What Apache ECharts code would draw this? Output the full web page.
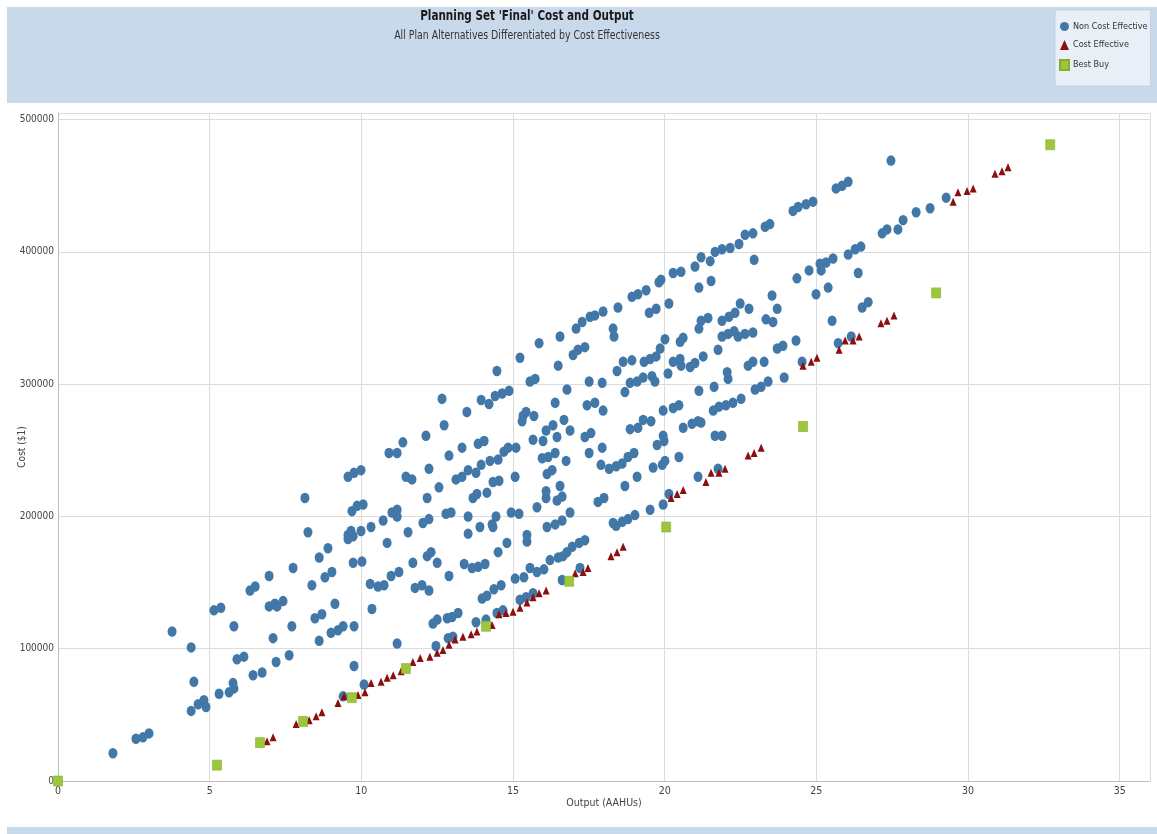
<!DOCTYPE html>
<html>
<head>
<meta charset="utf-8">
<script src="https://cdn.jsdelivr.net/npm/echarts@6/dist/echarts.min.js"></script>
<style>
html,body{margin:0;padding:0;background:#fff;}
#chart{width:1157px;height:834px;}
</style>
</head>
<body>
<div id="chart"></div>
<script>
// ---------- data: [Output (AAHUs), Cost ($1)] ----------
var nonCostEffective = [
[1.81,21000],[2.57,32000],[2.80,33000],[3.00,36000],[3.76,113000],[4.39,101000],[4.48,75000],[4.39,53000],[4.62,58000],[4.81,61000],
[4.88,56000],[5.14,129000],[5.37,131000],[5.31,66000],[5.64,67000],[5.77,74000],[5.80,70000],[5.80,117000],[5.90,92000],[6.13,94000],
[6.33,144000],[6.50,147000],[6.43,80000],[6.73,82000],[6.96,155000],[6.96,132000],[7.15,134000],[7.22,132000],[7.42,136000],[7.09,108000],
[7.19,90000],[7.62,95000],[7.71,117000],[7.75,161000],[8.37,148000],[8.61,106000],[8.47,123000],[8.70,126000],[8.80,154000],[9.03,158000],
[9.13,134000],[9.00,112000],[9.23,114000],[9.40,117000],[9.76,117000],[9.76,87000],[9.73,165000],[10.02,166000],[10.09,73000],[10.29,149000],
[10.35,130000],[9.40,64000],
[8.14,214000],[8.24,188000],[8.61,169000],[8.90,176000],[9.56,230000],[9.76,233000],[9.99,235000],[9.69,204000],[9.86,208000],[10.06,209000],
[9.56,186000],[9.66,189000],[9.73,185000],[9.56,183000],[9.99,189000],[10.32,192000],[10.55,147000],[10.72,197000],[10.75,148000],[10.85,180000],
[10.91,248000],[10.98,155000],[11.01,203000],[11.18,205000],[11.18,200000],[11.18,104000],[11.18,248000],[11.24,158000],[11.37,256000],[11.47,230000],
[11.54,188000],[11.67,228000],[11.70,165000],[11.77,146000],[12.00,148000],[12.03,195000],[12.13,261000],[12.17,214000],[12.23,198000],[12.17,170000],
[12.23,236000],[12.30,173000],[12.23,144000],[12.36,119000],[12.50,165000],[12.50,122000],[12.46,102000],[12.56,222000],[12.66,289000],[12.73,269000],
[12.79,202000],[12.89,155000],[12.89,246000],[12.83,123000],[12.86,108000],[12.96,203000],[12.99,124000],[13.02,109000],[13.19,127000],[13.12,228000],
[13.32,252000],[13.32,230000],[13.39,164000],[13.48,279000],[13.52,235000],[13.52,200000],[13.52,187000],[13.65,161000],[13.68,214000],[13.78,233000],
[13.81,217000],[13.85,162000],[13.85,255000],[13.91,192000],[13.95,239000],[13.95,288000],[13.98,138000],[14.05,257000],[14.08,164000],[14.14,140000],
[14.14,218000],[14.21,285000],[14.24,242000],[14.31,194000],[14.34,192000],[14.34,226000],[14.37,145000],[14.41,291000],[14.44,200000],[14.51,243000],
[14.51,173000],[14.54,227000],[14.61,148000],[14.64,293000],[14.70,249000],[14.80,180000],[14.84,252000],[14.87,295000],[14.94,203000],[15.07,230000],
[15.07,153000],[15.10,252000],[15.20,202000],[13.78,120000],[14.11,122000],[14.47,127000],[14.67,129000],[15.36,154000],[15.56,161000],[15.79,158000],
[15.23,137000],[15.43,139000],[15.66,142000],
[14.47,310000],[15.23,320000],[15.86,331000],[16.49,314000],[15.56,302000],[15.73,304000],[16.55,336000],
[17.08,342000],[17.28,347000],[17.54,351000],[17.70,352000],[17.97,355000],[18.46,358000],[18.92,366000],[19.12,368000],[19.39,371000],[19.81,377000],
[19.88,379000],[20.28,384000],[20.54,385000],[21.00,389000],[21.20,396000],[21.50,393000],[21.66,400000],[21.89,402000],[22.16,403000],[22.45,406000],
[22.65,413000],[22.91,414000],[23.31,419000],[23.47,421000],[22.95,394000],[24.36,380000],[24.76,386000],[16.98,322000],[17.14,326000],[17.37,328000],
[18.30,342000],[18.33,336000],[19.49,354000],[19.72,357000],[20.14,361000],[21.13,373000],[21.53,378000],[23.54,367000],[23.71,357000],[22.49,361000],
[22.78,357000],[21.20,348000],[21.43,350000],[21.89,348000],[22.12,351000],[22.32,354000],[23.34,349000],[23.57,347000],[21.13,342000],[24.33,333000],
[20.01,334000],[20.61,335000],[20.51,332000],[21.89,336000],[22.09,338000],[22.29,340000],[22.42,336000],[22.65,338000],[22.91,339000],[21.76,326000],
[21.27,321000],[23.90,329000],[23.71,327000],[24.53,317000],[17.51,302000],[17.94,301000],[18.43,310000],[18.63,317000],[18.92,318000],[19.32,317000],
[19.52,319000],[19.72,321000],[19.85,327000],[18.69,294000],[18.86,301000],[19.09,302000],[19.29,305000],[19.58,306000],[19.68,302000],[20.11,308000],
[20.28,317000],[20.51,319000],[20.54,314000],[20.84,313000],[21.00,316000],[22.06,309000],[22.09,304000],[22.75,314000],[22.91,317000],[23.28,317000],
[23.94,305000],[21.13,295000],[21.63,298000],[22.98,296000],[23.18,298000],[23.41,302000],[16.78,296000],[16.39,286000],[17.44,284000],[17.70,286000],
[17.97,280000],[15.33,276000],[15.43,279000],[15.69,276000],[15.30,272000],[16.68,273000],[16.32,269000],[16.09,265000],[16.88,265000],[16.45,260000],
[15.99,257000],[15.66,258000],[17.37,260000],[17.57,263000],[18.86,266000],[19.12,267000],[19.29,273000],[19.55,272000],[19.95,280000],[20.28,282000],
[20.47,284000],[20.61,267000],[20.90,270000],[21.10,272000],[21.20,271000],[21.60,280000],[21.79,283000],[22.02,284000],[22.25,286000],[22.52,289000],
[21.66,261000],[21.89,261000],[17.51,248000],[17.94,252000],[19.75,254000],[19.95,261000],[19.98,257000],[15.96,244000],[16.16,245000],[16.39,248000],
[16.75,242000],[17.90,239000],[18.17,236000],[18.40,238000],[18.60,240000],[18.79,245000],[18.99,248000],[19.62,237000],[19.92,239000],[20.01,242000],
[20.47,245000],[16.12,232000],[16.29,235000],[19.09,230000],[21.10,230000],[21.76,236000],
[18.69,223000],[16.09,219000],[16.09,214000],[16.45,212000],[16.55,223000],[16.62,215000],[17.80,211000],[18.00,214000],[15.79,207000],[16.88,203000],
[19.52,205000],[19.95,209000],[20.14,217000],[18.30,195000],[18.40,193000],[18.60,196000],[18.79,198000],[19.02,201000],[16.12,192000],[16.39,194000],
[16.62,197000],[15.46,186000],[15.46,181000],[16.95,177000],[17.18,180000],[17.37,182000],[16.78,173000],[16.65,170000],[16.49,169000],[16.22,167000],
[16.02,160000],[17.21,161000],[16.62,152000],
[27.46,469000],[25.65,448000],[25.85,450000],[26.05,453000],[24.23,431000],[24.40,434000],[24.66,436000],[24.89,438000],[27.17,414000],[27.33,417000],
[27.69,417000],[27.86,424000],[28.29,430000],[28.75,433000],[29.28,441000],[26.05,398000],[26.28,402000],[26.47,404000],[25.12,391000],[25.32,392000],
[25.55,395000],[25.16,386000],[26.38,384000],[25.39,373000],[24.99,368000],[25.52,348000],[26.51,358000],[26.71,362000],[25.72,331000],[26.15,336000]
];

var costEffective = [
[6.89,30000],[7.09,33000],[7.85,43000],[8.28,46000],[8.51,49000],[8.70,52000],[9.23,59000],[9.43,64000],[9.89,65000],[10.12,67000],
[10.32,74000],[10.65,75000],[10.85,78000],[11.05,80000],[11.31,83000],[11.70,90000],[11.94,93000],[12.26,94000],[12.50,97000],[12.69,99000],
[12.89,103000],[13.09,107000],[13.35,109000],[13.62,111000],[13.81,113000],[14.31,118000],[14.54,126000],[14.77,127000],[15.00,128000],[15.23,131000],
[15.46,135000],[15.66,139000],[15.86,142000],[16.09,144000],[17.05,157000],[17.31,158000],[17.47,161000],[18.23,170000],[18.43,173000],[18.63,177000],
[20.21,214000],[20.41,217000],[20.61,220000],[21.36,226000],[21.53,233000],[21.79,233000],[21.99,236000],[22.75,246000],[22.95,248000],[23.18,252000],
[24.56,314000],[24.83,317000],[25.02,320000],[25.75,326000],[25.95,333000],[26.21,333000],[26.41,336000],[27.13,346000],[27.33,348000],[27.56,352000],
[29.51,438000],[29.67,445000],[29.97,446000],[30.17,448000],[30.89,459000],[31.12,461000],[31.32,464000]
];

var bestBuy = [
[0,0],[5.24,12000],[6.66,29000],[8.08,45000],[9.69,63000],[11.47,85000],[14.11,117000],[16.85,151000],[20.05,192000],[24.56,268000],[28.95,369000],[32.71,481000]
];

var seriesNames = ['Non Cost Effective','Cost Effective','Best Buy'];
var titleText = "Planning Set 'Final' Cost and Output";
var subtitleText = 'All Plan Alternatives Differentiated by Cost Effectiveness';
var xAxisName = 'Output (AAHUs)';
var yAxisName = 'Cost ($1)';

// ---------- chart ----------
var FONT = '"Liberation Sans Narrow","DejaVu Sans Condensed","Liberation Sans",sans-serif';
var chart = echarts.init(document.getElementById('chart'), null, {renderer:'canvas'});
chart.setOption({
  backgroundColor:'#ffffff',
  animation:false,
  textStyle:{fontFamily:FONT},
  graphic:[
    {type:'rect', z:-10, shape:{x:7,y:7,width:1150,height:96}, style:{fill:'#c9d9ec'}},
    {type:'rect', z:-10, shape:{x:7,y:827,width:1150,height:7}, style:{fill:'#c9d9ec'}},
    {type:'text', x:527, y:9, scaleX:0.8, style:{text:titleText, textAlign:'center', fontFamily:FONT, fontSize:14.5, fontWeight:'bold', fill:'#1a1a1a'}},
    {type:'text', x:527, y:30, scaleX:0.87, style:{text:subtitleText, textAlign:'center', fontFamily:FONT, fontSize:12, fill:'#333333'}}
  ],
  legend:{
    orient:'vertical',
    left:1055, top:10,
    padding:[12,3,15,4],
    itemGap:9,
    itemWidth:9, itemHeight:10,
    backgroundColor:'#e9eff7',
    borderColor:'#c6cfdb', borderWidth:1,
    textStyle:{fontFamily:FONT, fontSize:9, color:'#333', padding:[0,0,0,-1]},
    data:[
      {name:seriesNames[0], icon:'circle'},
      {name:seriesNames[1], icon:'triangle'},
      {name:seriesNames[2], icon:'rect'}
    ]
  },
  grid:{left:58, right:7, top:113, bottom:53, containLabel:false, outerBoundsMode:'none'},
  xAxis:{
    type:'value', min:0, max:36, interval:5,
    name:xAxisName, nameLocation:'middle', nameGap:17, nameMoveOverlap:false,
    nameTextStyle:{fontFamily:FONT, fontSize:10.5, color:'#444'},
    axisLine:{show:true, lineStyle:{color:'#bfbfbf', width:1}},
    axisTick:{show:false},
    axisLabel:{fontFamily:FONT, fontSize:10.5, color:'#444', margin:5, showMaxLabel:false},
    splitLine:{show:true, lineStyle:{color:'#dcdcdc', width:1}}
  },
  yAxis:{
    type:'value', min:0, max:505000, interval:100000,
    name:yAxisName, nameLocation:'middle', nameGap:31, nameRotate:90, nameMoveOverlap:false,
    nameTextStyle:{fontFamily:FONT, fontSize:10, color:'#444'},
    axisLine:{show:true, lineStyle:{color:'#bfbfbf', width:1}},
    axisTick:{show:false},
    axisLabel:{fontFamily:FONT, fontSize:10, color:'#444', margin:4, showMaxLabel:false,
      formatter:function(v){return String(v);}},
    splitLine:{show:true, lineStyle:{color:'#dcdcdc', width:1}}
  },
  series:[
    {name:seriesNames[0], type:'scatter', data:nonCostEffective, symbol:'circle', symbolSize:[9,10.5],
     itemStyle:{color:'#4278a8', opacity:1}, z:2},
    {name:seriesNames[1], type:'scatter', data:costEffective, symbol:'triangle', symbolSize:[7,8],
     itemStyle:{color:'#8b0f0f', opacity:1}, z:3},
    {name:seriesNames[2], type:'scatter', data:bestBuy, symbol:'rect', symbolSize:[9,10],
     itemStyle:{color:'#9cc73c', borderColor:'#86ad2e', borderWidth:0.6, opacity:1}, z:4}
  ]
});
</script>
</body>
</html>
